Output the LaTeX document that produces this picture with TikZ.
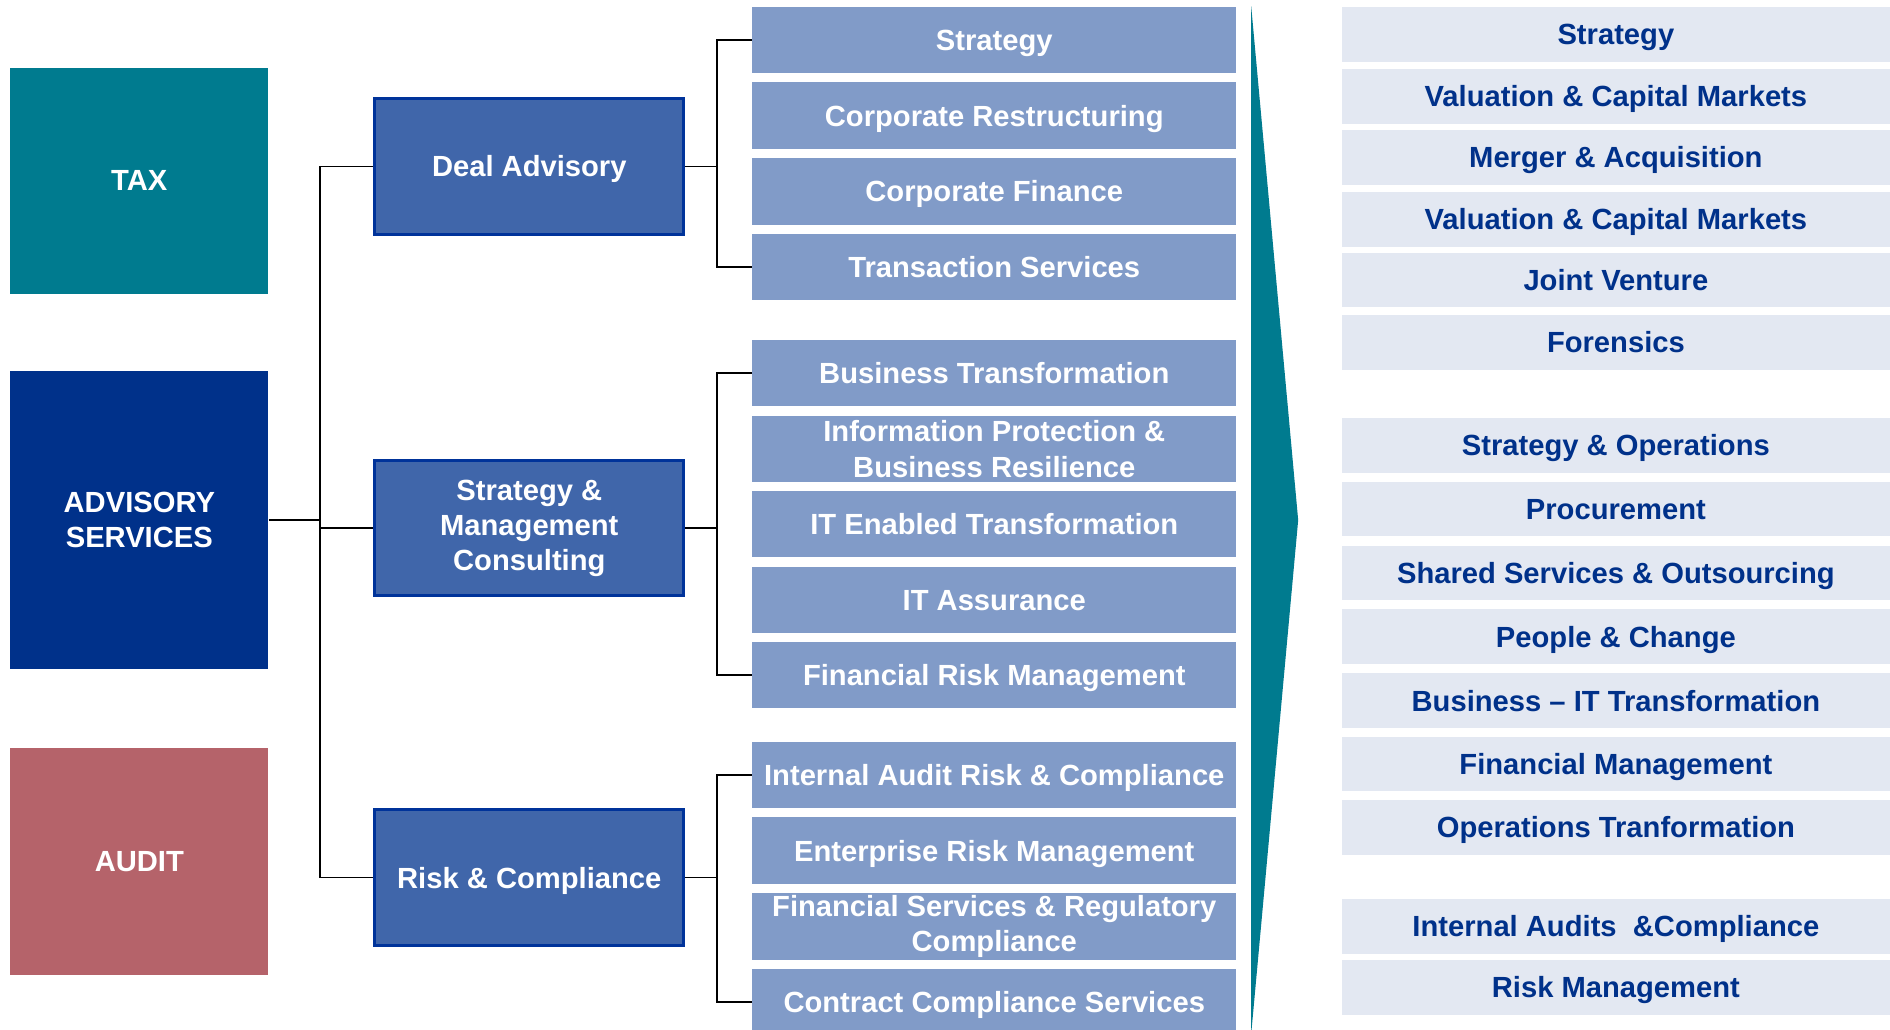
\documentclass[tikz,border=0pt]{standalone}
\usepackage{fontspec}
\setmainfont{Liberation Sans}
\definecolor{taxteal}{HTML}{007B8F}
\definecolor{advblue}{HTML}{00318A}
\definecolor{auditrose}{HTML}{B5636A}
\definecolor{midblue}{HTML}{4066AA}
\definecolor{midedge}{HTML}{00339A}
\definecolor{subblue}{HTML}{819BC8}
\definecolor{paleblue}{HTML}{E3E8F2}
\def\pxu{0.012054cm}

\begin{document}
\begin{tikzpicture}[x=\pxu, y=-\pxu,
  every node/.style={font=\fontsize{8.3}{10}\selectfont\bfseries, align=center, inner sep=0pt,
    text height=5.9pt, text depth=0pt},
  twoline/.style={text height={}, text depth={}},
  sizebox/.style 2 args={minimum width=#1*\pxu, minimum height=#2*\pxu, anchor=north west},
  firmbox/.style={sizebox={214}{#1}, text=white},
  practice/.style={sizebox={256.5}{112.5}, fill=midblue, draw=midedge, line width=0.8pt, text=white},
  service/.style={sizebox={401.4}{55.3}, fill=subblue, text=white},
  offer/.style={sizebox={454}{45.5}, fill=paleblue, text=advblue},
  link/.style={line width=0.45pt}]
  \useasboundingbox (0,0) rectangle (1568,854.5);
  \clip (0,0) rectangle (1568,854.5);

  % lines of business
  \node[firmbox=187.5, fill=taxteal] (tax) at (8,55.5) {TAX};
  \node[firmbox=247.5, fill=advblue, twoline] (adv) at (8,307) {ADVISORY\\SERVICES};
  \node[firmbox=188, fill=auditrose] (audit) at (8,620) {AUDIT};

  % practices
  \node[practice] (deal) at (309.7,80.7) {Deal Advisory};
  \node[practice, twoline] (smc) at (309.7,380.7) {Strategy \&\\Management\\Consulting};
  \node[practice] (risk) at (309.7,670.7) {Risk \& Compliance};

  % services
  \foreach \y/\n/\t in {5/da1/Strategy, 67.8/da2/Corporate Restructuring,
      130.6/da3/Corporate Finance, 193.4/da4/Transaction Services,
      281.3/sm1/Business Transformation,
      406.5/sm3/IT Enabled Transformation, 469.6/sm4/IT Assurance,
      531.8/sm5/Financial Risk Management,
      614.7/rc1/Internal Audit Risk \& Compliance,
      677.5/rc2/Enterprise Risk Management,
      803/rc4/Contract Compliance Services}{
    \node[service] (\n) at (623.6,\y) {\t};
  }
  \node[service, twoline] (sm2) at (623.6,344.3) {Information Protection \&\\Business Resilience};
  \node[service, twoline] (rc3) at (623.6,740.3) {Financial Services \& Regulatory\\Compliance};

  \coordinate (trunk) at (265.5,0);
  \coordinate (fork) at (595,0);
  \draw[link] (adv.east) -- (trunk |- adv.east);
  \draw[link] (trunk |- deal.west) -- (trunk |- risk.west);
  \foreach \p in {deal,smc,risk}{
    \draw[link] (trunk |- \p.west) -- (\p.west);
  }
  \foreach \p/\a/\b in {deal/da1/da4, smc/sm1/sm5, risk/rc1/rc4}{
    \draw[link] (\p.east) -- (fork |- \p.east);
    \draw[link] (\a.west) -- (fork |- \a.west) -- (fork |- \b.west) -- (\b.west);
  }

  % wedge
  \fill[taxteal] (1038,5) -- (1077,431.5) -- (1038,858) -- cycle;

  % offerings
  \foreach \y/\t [count=\i] in {5/Strategy, 56.7/Valuation \& Capital Markets,
      107/Merger \& Acquisition, 158.5/Valuation \& Capital Markets,
      209/Joint Venture, 260.5/Forensics,
      346/Strategy \& Operations, 399/Procurement,
      452/Shared Services \& Outsourcing, 505/People \& Change,
      558/Business – IT Transformation, 610.5/Financial Management,
      663/Operations Tranformation,
      745/Internal Audits\ \ \&Compliance, 796/Risk Management}{
    \node[offer] (of\i) at (1113,\y) {\t};
  }
\end{tikzpicture}
\end{document}
